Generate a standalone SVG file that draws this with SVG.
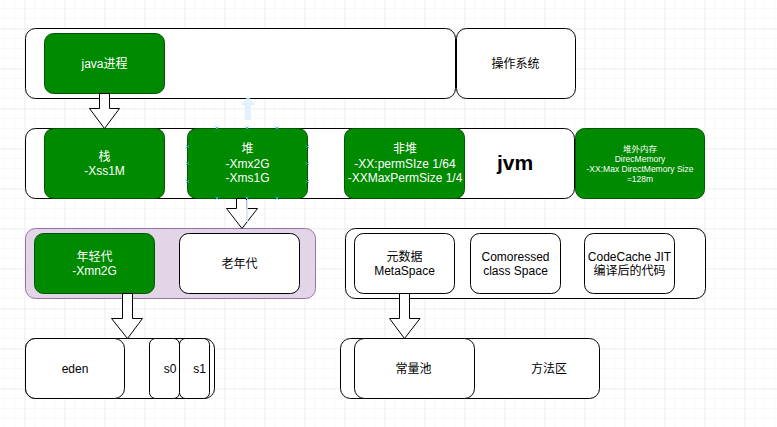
<svg xmlns="http://www.w3.org/2000/svg" width="777" height="427" viewBox="0 0 777 427">
<defs>
<pattern id="minor" x="4" y="8" width="10" height="10" patternUnits="userSpaceOnUse">
<path d="M0 0H10M0 0V10" fill="none" stroke="#f4f4f4" stroke-width="1"/>
</pattern>
<pattern id="major" x="24.5" y="28.5" width="40" height="40" patternUnits="userSpaceOnUse">
<path d="M0 0H40M0 0V40" fill="none" stroke="#e6e6e6" stroke-width="1"/>
</pattern>
<style>
.w{fill:#fff;stroke:#000;stroke-width:1}
.g{fill:#008a00;stroke:#005700;stroke-width:1}
.p{fill:#e1d5e7;stroke:#9673a6;stroke-width:1}
.t{font-family:"Liberation Sans","Noto Sans CJK SC",sans-serif;font-size:12px;text-anchor:middle;fill:#000}
.tw{fill:#fff}
.s{font-size:8.5px}
.arr{fill:#fff;stroke:#000;stroke-width:1;stroke-linejoin:miter}
.hx{stroke:#29b6f2;stroke-width:1;fill:none}
</style>
</defs>
<rect width="777" height="427" fill="#fff"/>
<rect width="777" height="427" fill="url(#minor)"/>
<rect width="777" height="427" fill="url(#major)"/>

<g id="os-row">
<rect class="w" x="25.5" y="28.5" width="430" height="70" rx="10"/>
</g>
<g id="java">
<rect class="g" x="44.5" y="33.5" width="120" height="60" rx="9"/>
<text class="t tw" x="104.5" y="67.5">java进程</text>
</g>
<g id="os">
<rect class="w" x="456.5" y="28.5" width="119" height="70" rx="10"/>
<text class="t" x="515.5" y="67.5">操作系统</text>
</g>

<g id="jvm">
<rect class="w" x="25.5" y="128.5" width="549" height="70" rx="10"/>
<text x="515" y="170" font-family="Liberation Sans, sans-serif" font-size="21" font-weight="bold" text-anchor="middle">jvm</text>
</g>
<g id="stack">
<rect class="g" x="44.5" y="128.5" width="120" height="70" rx="9"/>
<text class="t tw" x="104.5" y="161">栈</text>
<text class="t tw" x="104.5" y="175">-Xss1M</text>
</g>
<g id="heap">
<rect class="g" x="187.5" y="128.5" width="120" height="70" rx="9"/>
<text class="t tw" x="247.5" y="153">堆</text>
<text class="t tw" x="247.5" y="168">-Xmx2G</text>
<text class="t tw" x="247.5" y="182">-Xms1G</text>
</g>
<g id="nonheap">
<rect class="g" x="344.5" y="128.5" width="120" height="70" rx="9"/>
<text class="t tw" x="405" y="153">非堆</text>
<text class="t tw" x="405" y="168">-XX:permSIze 1/64</text>
<text class="t tw" x="405" y="182">-XXMaxPermSize 1/4</text>
</g>
<g id="direct">
<rect class="g" x="575.5" y="128.5" width="129" height="70" rx="9"/>
<text class="t tw s" x="640" y="152">堆外内存</text>
<text class="t tw s" x="640" y="162">DirecMemory</text>
<text class="t tw s" x="640" y="172" textLength="107" lengthAdjust="spacingAndGlyphs">-XX:Max DirectMemory Size</text>
<text class="t tw s" x="640" y="182">=128m</text>
</g>

<g id="heap-gen">
<rect class="p" x="25.5" y="228.5" width="290" height="70" rx="10"/>
</g>
<g id="young">
<rect class="g" x="34.5" y="233.5" width="120" height="60" rx="9"/>
<text class="t tw" x="94.5" y="261">年轻代</text>
<text class="t tw" x="94.5" y="275">-Xmn2G</text>
</g>
<g id="old">
<rect class="w" x="179.5" y="233.5" width="120" height="60" rx="9"/>
<text class="t" x="239.5" y="267.5">老年代</text>
</g>

<g id="meta-row">
<rect class="w" x="345.5" y="228.5" width="360" height="70" rx="10"/>
</g>
<g id="meta">
<rect class="w" x="354.5" y="233.5" width="100" height="60" rx="9"/>
<text class="t" x="404.5" y="261">元数据</text>
<text class="t" x="404.5" y="275">MetaSpace</text>
</g>
<g id="compressed">
<rect class="w" x="470.5" y="233.5" width="90" height="60" rx="9"/>
<text class="t" x="515.5" y="261">Comoressed</text>
<text class="t" x="515.5" y="275">class Space</text>
</g>
<g id="codecache">
<rect class="w" x="584.5" y="233.5" width="90" height="60" rx="9"/>
<text class="t" x="629.5" y="261">CodeCache JIT</text>
<text class="t" x="629.5" y="275">编译后的代码</text>
</g>

<g id="young-row">
<rect class="w" x="25.5" y="338.5" width="189" height="60" rx="10"/>
</g>
<g id="eden">
<rect class="w" x="25.5" y="338.5" width="99" height="60" rx="10"/>
<text class="t" x="75" y="372.5">eden</text>
</g>
<g id="s0">
<rect class="w" x="149.5" y="338.5" width="30" height="60" rx="6"/>
<text class="t" x="170" y="372.5">s0</text>
</g>
<g id="s1">
<rect class="w" x="179.5" y="338.5" width="30" height="60" rx="6"/>
<text class="t" x="199.5" y="372.5">s1</text>
</g>

<g id="method-area">
<rect class="w" x="340.5" y="338.5" width="259" height="60" rx="10"/>
<text class="t" x="549" y="372.5">方法区</text>
</g>
<g id="constpool">
<rect class="w" x="354.5" y="338.5" width="120" height="60" rx="10"/>
<text class="t" x="413.5" y="372.5">常量池</text>
</g>

<g id="connectors">
<path class="arr" d="M99.5 93.5H109.5V108.5H119.5L104.5 128.5L89.5 108.5H99.5Z"/>
<path class="arr" d="M236.5 198.5H246.5V208.5H257.5L242 228.5L226.5 208.5H236.5Z"/>
<path class="arr" d="M122.5 293.5H132.5V318.5H142.5L127.5 338.5L111.5 318.5H122.5Z"/>
<path class="arr" d="M399.5 293.5H409.5V318.5H420L404.5 338.5L389.5 318.5H399.5Z"/>
</g>

<g id="ui-hints" opacity="0.85">
<path d="M245 120V105H241L248 96L255 105H251V120Z" fill="#dcf0fc"/>
<path d="M247 200V222" stroke="#cfe9fa" stroke-width="2"/>
<g class="hx">
<path d="M215.5 126.5l3 3m0-3l-3 3M245.5 126.5l3 3m0-3l-3 3M275.5 126.5l3 3m0-3l-3 3"/>
<path d="M215.5 196.5l3 3m0-3l-3 3M245.5 196.5l3 3m0-3l-3 3M275.5 196.5l3 3m0-3l-3 3"/>
<path d="M186 145l3 3m0-3l-3 3M186 162l3 3m0-3l-3 3M186 180l3 3m0-3l-3 3"/>
<path d="M306 145l3 3m0-3l-3 3M306 162l3 3m0-3l-3 3M306 180l3 3m0-3l-3 3"/>
</g>
</g>
</svg>
